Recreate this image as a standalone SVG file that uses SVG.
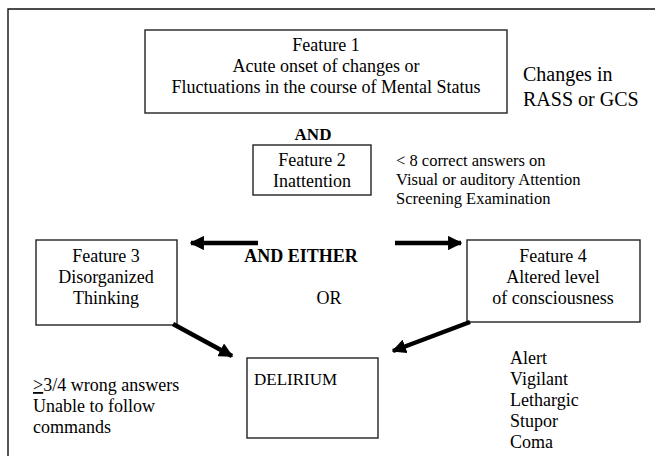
<svg xmlns="http://www.w3.org/2000/svg" width="655" height="456" viewBox="0 0 655 456">
<style>
text{font-family:"Liberation Serif","Times New Roman",serif;fill:#000;font-size:18px}
.c{text-anchor:middle}
.b{font-weight:bold}
.box{fill:#fff;stroke:#222;stroke-width:1.4}
.frame{fill:none;stroke:#111;stroke-width:1.4}
.arr{stroke:#000;stroke-width:4.5;fill:none}
.sm{font-size:16.5px}
.lg{font-size:20px}
</style>
<defs>
<marker id="ah" viewBox="0 0 10 10" refX="9" refY="5" markerWidth="3.2" markerHeight="3.2" orient="auto" markerUnits="strokeWidth">
<path d="M0,0 L10,5 L0,10 Z" fill="#000"/>
</marker>
</defs>
<path class="frame" d="M8,456 V9 H655"/>
<g id="feature1">
<rect class="box" x="145" y="30" width="362" height="83"/>
<text class="c" x="326" y="51">Feature 1</text>
<text class="c" x="326" y="72">Acute onset of changes or</text>
<text class="c" x="326" y="93">Fluctuations in the course of Mental Status</text>
</g>
<g id="feature1-note">
<text class="lg" x="523" y="81">Changes in</text>
<text class="lg" x="523" y="106">RASS or GCS</text>
</g>
<text class="c b" x="313" y="140" style="font-size:17px">AND</text>
<g id="feature2">
<rect class="box" x="253" y="145" width="118" height="50"/>
<text class="c" x="312" y="166">Feature 2</text>
<text class="c" x="312" y="187">Inattention</text>
</g>
<g id="feature2-note">
<text class="sm" x="396" y="166">&lt; 8 correct answers on</text>
<text class="sm" x="396" y="185">Visual or auditory Attention</text>
<text class="sm" x="396" y="204">Screening Examination</text>
</g>
<text class="c b" x="301" y="262">AND EITHER</text>
<g id="feature3">
<rect class="box" x="36" y="240" width="141" height="85"/>
<text class="c" x="106" y="262">Feature 3</text>
<text class="c" x="106" y="283">Disorganized</text>
<text class="c" x="106" y="304">Thinking</text>
</g>
<text class="c" x="329" y="304">OR</text>
<g id="feature4">
<rect class="box" x="467" y="240" width="173" height="82"/>
<text class="c" x="553" y="262">Feature 4</text>
<text class="c" x="553" y="283">Altered level</text>
<text class="c" x="553" y="304">of consciousness</text>
</g>
<g id="delirium">
<rect class="box" x="247" y="358" width="131" height="80"/>
<text x="254" y="385" style="font-size:17px">DELIRIUM</text>
</g>
<g id="feature3-note">
<text x="33" y="391"><tspan text-decoration="underline">&gt;</tspan>3/4 wrong answers</text>
<text x="33" y="412">Unable to follow</text>
<text x="33" y="433">commands</text>
</g>
<g id="feature4-note">
<text x="510" y="364">Alert</text>
<text x="510" y="385">Vigilant</text>
<text x="510" y="406">Lethargic</text>
<text x="510" y="427">Stupor</text>
<text x="510" y="448">Coma</text>
</g>
<g id="connectors">
<line class="arr" x1="258" y1="243" x2="191" y2="243" marker-end="url(#ah)"/>
<line class="arr" x1="395" y1="243" x2="461" y2="243" marker-end="url(#ah)"/>
<line class="arr" x1="173" y1="324" x2="232" y2="356" marker-end="url(#ah)"/>
<line class="arr" x1="470" y1="322" x2="393" y2="351" marker-end="url(#ah)"/>
</g>
</svg>
